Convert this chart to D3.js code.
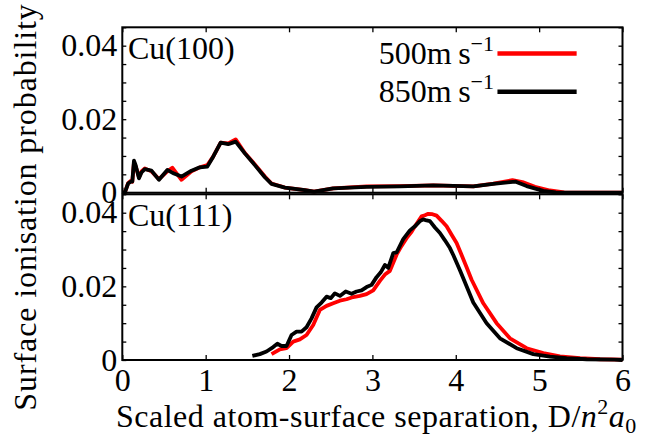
<!DOCTYPE html>
<html><head><meta charset="utf-8">
<script src="https://cdn.jsdelivr.net/npm/d3@7"></script>
<style>
body{margin:0;background:#fff}
svg text{font-family:"Liberation Serif","Times New Roman",serif;fill:#000}
</style>
</head><body>
<svg id="chart" width="659" height="440"></svg>
<script>
// Axis ticks and labels
const xTicks = [0, 1, 2, 3, 4, 5, 6];
const yLabelledTicks = [0, 0.02, 0.04];
const panelNames = ["Cu(100)", "Cu(111)"];
const speedLabels = ["500", "850"];
const speedColors = ["#ff0000", "#000000"];

// Cu(100): [separation, probability]
const cu100_500 = [[0,0],[0.03,0],[0.07,0.0026],[0.1,0.0032],[0.12,0.003],[0.14,0.0082],[0.16,0.0072],[0.2,0.0042],[0.23,0.0058],[0.27,0.0066],[0.35,0.0058],[0.44,0.0037],[0.54,0.0058],[0.6,0.0068],[0.64,0.0056],[0.71,0.0035],[0.83,0.0058],[0.93,0.0069],[1.02,0.0075],[1.09,0.0098],[1.18,0.0136],[1.27,0.0134],[1.36,0.0145],[1.47,0.0108],[1.59,0.0077],[1.71,0.0044],[1.79,0.0025],[1.95,0.0014],[2.19,0.0007],[2.3,0.0003],[2.53,0.0012],[2.93,0.0017],[3.33,0.0018],[3.73,0.002],[4.21,0.0017],[4.45,0.0025],[4.68,0.0034],[4.8,0.0029],[4.95,0.0016],[5.13,0.0006],[5.3,0.0001],[5.6,0],[6,0]];
const cu100_850 = [[0,0],[0.03,0],[0.07,0.0025],[0.1,0.003],[0.12,0.003],[0.14,0.0087],[0.16,0.0075],[0.2,0.0039],[0.23,0.0055],[0.27,0.0064],[0.35,0.006],[0.44,0.0035],[0.54,0.0062],[0.62,0.0052],[0.71,0.0044],[0.83,0.006],[0.93,0.0069],[1.02,0.0071],[1.09,0.0098],[1.18,0.0136],[1.27,0.0132],[1.36,0.0139],[1.47,0.0107],[1.59,0.0075],[1.71,0.0042],[1.79,0.0024],[1.95,0.0014],[2.19,0.0007],[2.3,0.0003],[2.53,0.0012],[2.93,0.0016],[3.33,0.0017],[3.73,0.002],[4.21,0.0017],[4.45,0.0024],[4.65,0.0029],[4.72,0.003],[4.85,0.0018],[5.05,0.0005],[5.2,0.0001],[5.5,0],[6,0]];

// Cu(111): [separation, probability]
const cu111_500 = [[1.79,0.0016],[1.89,0.0029],[1.97,0.0032],[2.05,0.005],[2.13,0.0056],[2.21,0.0068],[2.29,0.0095],[2.37,0.0136],[2.45,0.0147],[2.53,0.0154],[2.61,0.0161],[2.69,0.0165],[2.77,0.0171],[2.85,0.0174],[2.93,0.0179],[3.01,0.0189],[3.09,0.0215],[3.15,0.0232],[3.21,0.0242],[3.29,0.0286],[3.35,0.031],[3.41,0.0331],[3.47,0.0348],[3.51,0.0363],[3.59,0.039],[3.63,0.0393],[3.67,0.0397],[3.72,0.0396],[3.77,0.0392],[3.83,0.0378],[3.89,0.0363],[3.95,0.034],[4.01,0.0318],[4.07,0.0285],[4.13,0.0252],[4.19,0.0218],[4.33,0.0154],[4.49,0.01],[4.65,0.0059],[4.85,0.0032],[5.05,0.0019],[5.25,0.001],[5.49,0.0005],[5.73,0.0002],[6,0.0001]];
const cu111_850 = [[1.56,0.0011],[1.65,0.0016],[1.73,0.0023],[1.81,0.0035],[1.86,0.0044],[1.91,0.0038],[1.97,0.0038],[2.03,0.0068],[2.09,0.0077],[2.15,0.0077],[2.21,0.0089],[2.27,0.0113],[2.33,0.0143],[2.39,0.0156],[2.45,0.0172],[2.5,0.0168],[2.55,0.0181],[2.61,0.0174],[2.68,0.0186],[2.75,0.018],[2.81,0.0186],[2.87,0.0189],[2.93,0.0198],[2.99,0.0204],[3.05,0.0225],[3.1,0.0238],[3.15,0.0258],[3.19,0.025],[3.25,0.029],[3.29,0.0292],[3.37,0.0328],[3.45,0.0352],[3.51,0.0363],[3.57,0.0377],[3.61,0.0382],[3.65,0.0379],[3.69,0.0377],[3.75,0.036],[3.81,0.0345],[3.87,0.0325],[3.93,0.0304],[3.97,0.0285],[4.05,0.0244],[4.09,0.0222],[4.21,0.0156],[4.37,0.01],[4.53,0.0059],[4.73,0.0032],[4.93,0.0016],[5.13,0.0009],[5.33,0.0005],[5.57,0.0002],[5.9,0.0001],[6,0]];

const panelData = [[cu100_500, cu100_850], [cu111_500, cu111_850]];

const svg = d3.select("#chart");
const left = 122.3, right = 622.5;
const panelBoxes = [{top: 27.3, bottom: 192.7}, {top: 194.3, bottom: 360}];
const fontSize = 32, scriptSize = 22;

const x = d3.scaleLinear().domain([0, 6]).range([left, right]);
const yTicksAll = d3.range(0, 0.0451, 0.005).map(v => +v.toFixed(3));
const fmtY = d => (yLabelledTicks.some(t => Math.abs(t - d) < 1e-9) ? (d === 0 ? "0" : d3.format(".2f")(d)) : "");

panelBoxes.forEach((box, i) => {
  const y = d3.scaleLinear().domain([0, 0.045]).range([box.bottom, box.top]);
  const g = svg.append("g");

  // curves: 500 m/s first, 850 m/s drawn over it
  const line = d3.line().x(d => x(d[0])).y(d => y(d[1]));
  panelData[i].forEach((series, k) => {
    g.append("path").datum(series)
      .attr("d", line)
      .attr("fill", "none")
      .attr("stroke", speedColors[k])
      .attr("stroke-width", 3.8)
      .attr("stroke-linejoin", "round");
  });

  // inward ticks on all four sides
  const isLast = i === panelBoxes.length - 1;
  const bottomAxis = d3.axisBottom(x).tickValues(xTicks).tickSize(-5).tickPadding(8)
    .tickFormat(isLast ? d3.format("d") : () => "");
  const topAxis = d3.axisTop(x).tickValues(xTicks).tickSize(-5).tickFormat(() => "");
  const leftAxis = d3.axisLeft(y).tickValues(yTicksAll).tickSize(-4).tickPadding(5).tickFormat(fmtY);
  const rightAxis = d3.axisRight(y).tickValues(yTicksAll).tickSize(-4).tickFormat(() => "");

  const styleAxis = sel => {
    sel.select(".domain").remove();
    sel.selectAll(".tick line").attr("stroke", "#000").attr("stroke-width", 1.3);
    sel.selectAll(".tick text").attr("font-size", fontSize).attr("fill", "#000");
  };
  g.append("g").attr("transform", `translate(0,${box.bottom})`).call(bottomAxis).call(styleAxis);
  g.append("g").attr("transform", `translate(0,${box.top})`).call(topAxis).call(styleAxis);
  g.append("g").attr("transform", `translate(${left},0)`).call(leftAxis).call(styleAxis);
  g.append("g").attr("transform", `translate(${right},0)`).call(rightAxis).call(styleAxis);

  // frame
  g.append("rect")
    .attr("x", left).attr("y", box.top)
    .attr("width", right - left).attr("height", box.bottom - box.top)
    .attr("fill", "none").attr("stroke", "#000").attr("stroke-width", 2);

  // panel name
  g.append("text").attr("x", 128).attr("y", box.top + 32)
    .attr("font-size", fontSize).text(panelNames[i]);
});

// legend in the upper panel
const legend = svg.append("g");
speedLabels.forEach((lab, k) => {
  const ly = 53.5 + k * 38.3;
  const t = legend.append("text").attr("x", 494).attr("y", ly + 10)
    .attr("text-anchor", "end").attr("font-size", fontSize);
  t.append("tspan").text(lab + "m\u2009s");
  t.append("tspan").attr("font-size", scriptSize).attr("dy", -13).text("\u22121");
  legend.append("line")
    .attr("x1", x(4.5)).attr("x2", x(5.45))
    .attr("y1", ly).attr("y2", ly)
    .attr("stroke", speedColors[k]).attr("stroke-width", 4.5);
});

// axis titles
const xt = svg.append("text").attr("x", 116).attr("y", 427)
  .attr("font-size", fontSize).attr("letter-spacing", 0.5);
xt.append("tspan").text("Scaled atom-surface separation, D/");
xt.append("tspan").attr("font-style", "italic").text("n");
xt.append("tspan").attr("font-size", scriptSize).attr("dy", -13).text("2");
xt.append("tspan").attr("font-style", "italic").attr("dy", 13).text("a");
xt.append("tspan").attr("font-size", scriptSize).attr("dy", 6).text("0");

svg.append("text")
  .attr("transform", "translate(36,207) rotate(-90)")
  .attr("text-anchor", "middle").attr("font-size", fontSize).attr("letter-spacing", 0.9)
  .text("Surface ionisation probability");
</script>
</body></html>
